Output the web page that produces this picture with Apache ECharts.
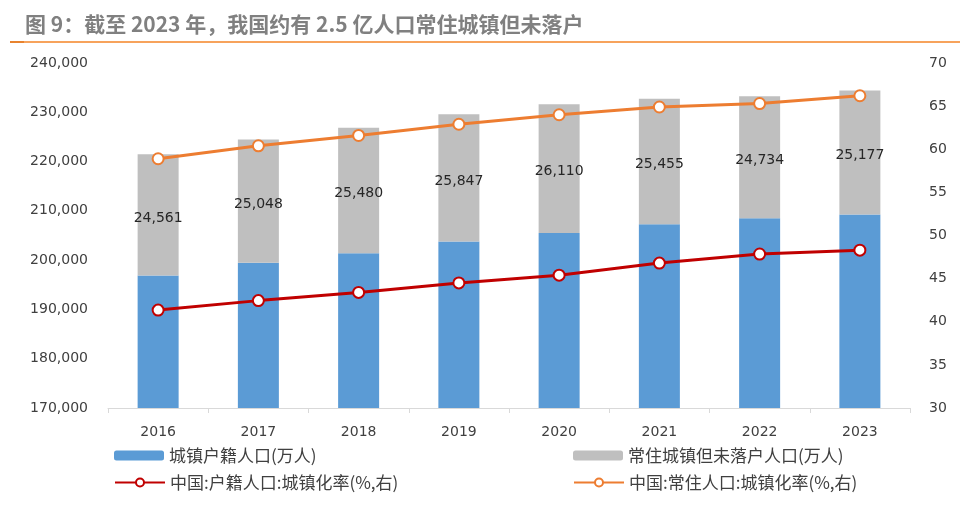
<!DOCTYPE html>
<html>
<head>
<meta charset="utf-8">
<script src="https://cdn.jsdelivr.net/npm/echarts@6/dist/echarts.min.js"></script>
<style>
html,body{margin:0;padding:0;background:#fff;}
#chart{width:960px;height:507px;}
</style>
</head>
<body>
<div id="chart"></div>
<script>
const titleText = '图 9：截至 2023 年，我国约有 2.5 亿人口常住城镇但未落户';
const years = ['2016','2017','2018','2019','2020','2021','2022','2023'];
const hukouPop = [196900, 199450, 201400, 203770, 205500, 207300, 208520, 209250];
const unsettledPop = [24561, 25048, 25480, 25847, 26110, 25455, 24734, 25177];
const hukouRate = [41.35, 42.45, 43.4, 44.5, 45.4, 46.8, 47.85, 48.3];
const residentRate = [58.9, 60.4, 61.6, 62.9, 64.0, 64.9, 65.3, 66.2];
const names = ['城镇户籍人口(万人)', '常住城镇但未落户人口(万人)', '中国:户籍人口:城镇化率(%,右)', '中国:常住人口:城镇化率(%,右)'];

const chart = echarts.init(document.getElementById('chart'), null, {renderer:'canvas'});
const fmt = v => Number(v).toLocaleString('en-US');
const axisFont = {fontFamily:'DejaVu Sans', fontSize:14, color:'#404040'};
const legendText = {fontFamily:'Noto Sans CJK SC', fontSize:17, color:'#404040'};
function lg(name, left, top){
  return {data:[name], left:left, top:top, padding:0, itemWidth:50, itemHeight:10,
          itemGap:0, textStyle:legendText, selectedMode:false};
}
chart.setOption({
  animation:false,
  backgroundColor:'#fff',
  title:{text:titleText, left:25, top:14, padding:0,
         textStyle:{fontFamily:'Noto Sans CJK SC', fontSize:21, fontWeight:'bold', color:'#808080'}},
  graphic:[
    {type:'line', shape:{x1:10,y1:42,x2:960,y2:42}, style:{stroke:'#F7A35C', lineWidth:2}},
    {type:'line', shape:{x1:10,y1:42,x2:24,y2:42}, style:{stroke:'#E8832F', lineWidth:2}}
  ],
  legend:[lg(names[0],114,447), lg(names[1],573,447), lg(names[2],114,474), lg(names[3],573,474)],
  grid:{left:108, right:50, top:63, bottom:99, containLabel:false},
  xAxis:{type:'category', data:years, boundaryGap:true,
    axisLine:{lineStyle:{color:'#D9D9D9', width:1}},
    axisTick:{show:true, alignWithLabel:false, length:5, lineStyle:{color:'#D9D9D9'}},
    axisLabel:Object.assign({margin:17}, axisFont)},
  yAxis:[
    {type:'value', min:170000, max:240000, interval:10000, position:'left',
     axisLine:{show:false}, axisTick:{show:false}, splitLine:{show:false},
     axisLabel:Object.assign({margin:20, formatter:v=>fmt(v)}, axisFont)},
    {type:'value', min:30, max:70, interval:5, position:'right',
     axisLine:{show:false}, axisTick:{show:false}, splitLine:{show:false},
     axisLabel:Object.assign({margin:19}, axisFont)}
  ],
  series:[
    {name:names[0], type:'bar', stack:'pop', data:hukouPop, barWidth:41,
     itemStyle:{color:'#5B9BD5'}, emphasis:{disabled:true}},
    {name:names[1], type:'bar', stack:'pop', data:unsettledPop, barWidth:41,
     itemStyle:{color:'#BFBFBF'}, emphasis:{disabled:true},
     label:{show:true, position:'inside', offset:[0,3], formatter:p=>fmt(p.value),
            fontFamily:'DejaVu Sans', fontSize:14, color:'#262626'}},
    {name:names[2], type:'line', yAxisIndex:1, data:hukouRate, z:5,
     symbol:'emptyCircle', symbolSize:11, lineStyle:{color:'#C00000', width:3},
     itemStyle:{color:'#C00000', borderWidth:2}, emphasis:{disabled:true}},
    {name:names[3], type:'line', yAxisIndex:1, data:residentRate, z:5,
     symbol:'emptyCircle', symbolSize:11, lineStyle:{color:'#ED7D31', width:3},
     itemStyle:{color:'#ED7D31', borderWidth:2}, emphasis:{disabled:true}}
  ]
});
</script>
</body>
</html>
